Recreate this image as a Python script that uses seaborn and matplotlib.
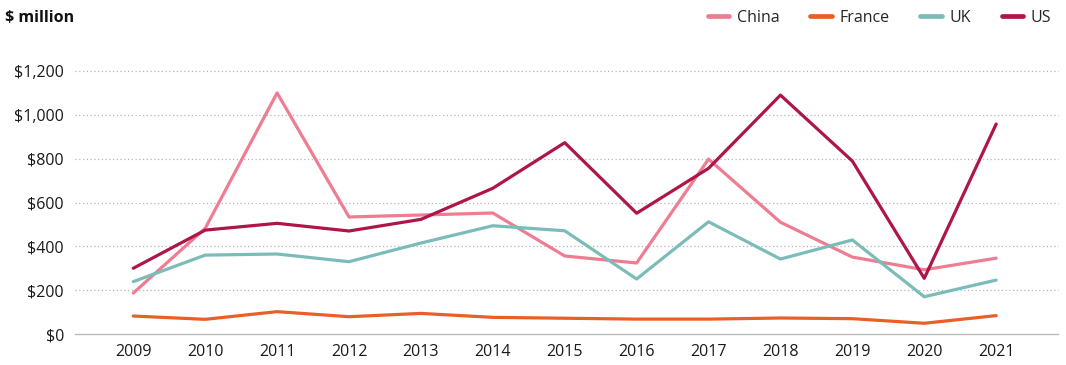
import numpy as np
import pandas as pd
import matplotlib
matplotlib.use("Agg")
import matplotlib.pyplot as plt
import seaborn as sns
from matplotlib.ticker import FuncFormatter

# Annual values, $ million
years = list(range(2009, 2022))
china = [187, 482, 1100, 534, 543, 552, 356, 324, 798, 510, 351, 293, 346]
france = [82, 67, 102, 79, 94, 76, 72, 68, 68, 73, 70, 49, 84]
uk = [239, 360, 365, 330, 415, 494, 471, 251, 512, 342, 429, 170, 246]
us = [300, 474, 505, 470, 523, 665, 873, 551, 756, 1090, 789, 254, 958]

countries = ["China", "France", "UK", "US"]
colors = ["#ee7d92", "#e95f28", "#7bbcb8", "#ae1549"]
y_ticks = [0, 200, 400, 600, 800, 1000, 1200]

df = pd.DataFrame({
    "year": years * 4,
    "value": china + france + uk + us,
    "country": sum([[c] * len(years) for c in countries], []),
})

sns.set_theme(style="white")
plt.rcParams["font.family"] = ["Open Sans", "DejaVu Sans"]

fig = plt.figure(figsize=(10.66, 3.65), dpi=100)
ax = fig.add_axes([0.0704, 0.0849, 0.9221, 0.7206])

sns.lineplot(data=df, x="year", y="value", hue="country",
             palette=dict(zip(countries, colors)), linewidth=2.3,
             ax=ax, legend=False)

ax.set_xlim(2008.19, 2021.86)
ax.set_ylim(0, 1200)
ax.set_xticks(years)
ax.set_yticks(y_ticks)
ax.yaxis.set_major_formatter(FuncFormatter(lambda v, _: f"${v:,.0f}"))
ax.tick_params(axis="both", length=0, labelsize=11.5, colors="#1a1a1a")
ax.tick_params(axis="y", pad=8)
ax.tick_params(axis="x", pad=7)
ax.set_xlabel("")
ax.set_ylabel("")

for s in ["top", "right", "left"]:
    ax.spines[s].set_visible(False)
ax.spines["bottom"].set_color("#bbbbbb")
ax.spines["bottom"].set_linewidth(1.0)

for v in y_ticks[1:]:
    ax.axhline(v, color="#b5b5b5", linestyle=(0, (1, 2)), linewidth=0.9,
               zorder=0, clip_on=False)

fig.text(0.005, 0.951, "$ million", fontsize=11.5, fontweight="bold",
         color="#111111", va="center", ha="left")

handles = [plt.Line2D([0], [0], color=c, linewidth=3.4, solid_capstyle="round")
           for c in colors]
fig.legend(handles, countries, loc="center right", bbox_to_anchor=(0.992, 0.951),
           ncol=4, frameon=False, fontsize=11.5, handlelength=1.35,
           handletextpad=0.45, columnspacing=1.95, borderaxespad=0)

fig.savefig("out.png", dpi=100)
